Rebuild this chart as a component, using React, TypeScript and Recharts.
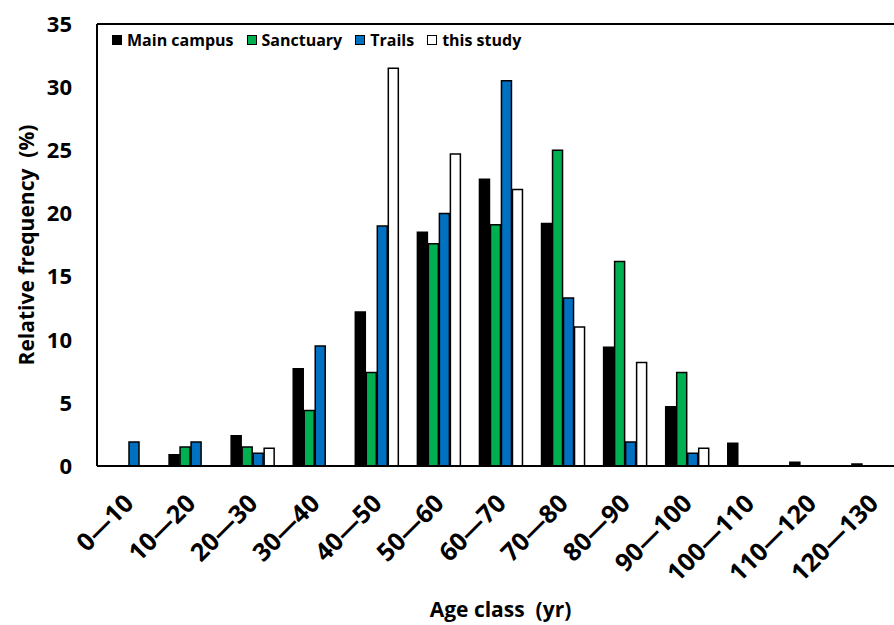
import { Bar, BarChart, Legend, ReferenceLine, XAxis, YAxis } from "recharts";

const FONT = "'Open Sans', 'Noto Sans', sans-serif";

const ageClasses = [
  "0—10", "10—20", "20—30", "30—40", "40—50", "50—60", "60—70",
  "70—80", "80—90", "90—100", "100—110", "110—120", "120—130",
];
const mainCampus = [0, 0.9, 2.4, 7.7, 12.2, 18.5, 22.7, 19.2, 9.4, 4.7, 1.8, 0.3, 0.15];
const sanctuary = [0, 1.5, 1.5, 4.4, 7.4, 17.6, 19.1, 25.0, 16.2, 7.4, 0, 0, 0];
const trails = [1.9, 1.9, 1.0, 9.5, 19.0, 20.0, 30.5, 13.3, 1.9, 1.0, 0, 0, 0];
const thisStudy = [0, 0, 1.4, 0, 31.5, 24.7, 21.9, 11.0, 8.2, 1.4, 0, 0, 0];
const yTicks = [0, 5, 10, 15, 20, 25, 30, 35];

const series = [
  { key: "main", name: "Main campus", color: "#000000" },
  { key: "sanctuary", name: "Sanctuary", color: "#00b050" },
  { key: "trails", name: "Trails", color: "#0070c0" },
  { key: "study", name: "this study", color: "#ffffff" },
];

const data = ageClasses.map((age, i) => ({
  age,
  main: mainCampus[i],
  sanctuary: sanctuary[i],
  trails: trails[i],
  study: thisStudy[i],
}));

function AgeTick({ x, y, payload }: any) {
  const tx = x + 7;
  const ty = y + 31;
  return (
    <text
      x={tx}
      y={ty}
      textAnchor="end"
      transform={`rotate(-45 ${tx} ${ty})`}
      fontSize={25}
      fontWeight={700}
      fontFamily={FONT}
      fill="#000"
    >
      {payload.value}
    </text>
  );
}

function LegendRow() {
  return (
    <div style={{ display: "flex", alignItems: "center", fontFamily: FONT, fontWeight: 700, fontSize: 16 }}>
      {series.map((s) => (
        <span key={s.key} style={{ display: "flex", alignItems: "center", marginRight: 13 }}>
          <span
            style={{
              width: 8,
              height: 8,
              background: s.color,
              border: "1.5px solid #000",
              marginRight: 5,
              display: "inline-block",
            }}
          />
          {s.name}
        </span>
      ))}
    </div>
  );
}

export default function App() {
  return (
    <div style={{ position: "absolute", left: 0, top: 0, width: 894, height: 625, overflow: "hidden", background: "#fff" }}>
      <BarChart
        width={910}
        height={625}
        data={data}
        margin={{ top: 24, right: 6, left: 0, bottom: 0 }}
        barSize={10}
        barGap={1}
        style={{ fontFamily: FONT }}
      >
        <XAxis
          dataKey="age"
          height={159}
          interval={0}
          tickLine={false}
          axisLine={{ stroke: "#000", strokeWidth: 2 }}
          tick={<AgeTick />}
          label={(props: any) => {
            const vb = props.viewBox;
            return (
              <text
                x={vb.x + vb.width / 2}
                y={617}
                textAnchor="middle"
                fontSize={21}
                fontWeight={700}
                fontFamily={FONT}
                fill="#000"
                xmlSpace="preserve"
              >
                {"Age class\u00a0 (yr)"}
              </text>
            );
          }}
        />
        <YAxis
          width={97}
          domain={[0, 35]}
          ticks={yTicks}
          interval={0}
          tickLine={false}
          tickMargin={19}
          axisLine={{ stroke: "#000", strokeWidth: 2 }}
          tick={{ fill: "#000", fontSize: 22, fontWeight: 700, fontFamily: FONT }}
          label={(props: any) => {
            const vb = props.viewBox;
            const cx = 26;
            const cy = vb.y + vb.height / 2;
            return (
              <text
                x={cx}
                y={cy}
                textAnchor="middle"
                dominantBaseline="central"
                transform={`rotate(-90 ${cx} ${cy})`}
                fontSize={21}
                fontWeight={700}
                fontFamily={FONT}
                fill="#000"
                xmlSpace="preserve"
              >
                {"Relative frequency\u00a0 (%)"}
              </text>
            );
          }}
        />
        <ReferenceLine y={35} stroke="#000" strokeWidth={2} ifOverflow="visible" />
        <Legend
          layout="horizontal"
          verticalAlign="middle"
          align="center"
          wrapperStyle={{ top: 29, left: 112, width: "auto" }}
          content={() => <LegendRow />}
        />
        {series.map((s) => (
          <Bar
            key={s.key}
            dataKey={s.key}
            name={s.name}
            fill={s.color}
            stroke="#000"
            strokeWidth={1.5}
            isAnimationActive={false}
          />
        ))}
      </BarChart>
    </div>
  );
}
